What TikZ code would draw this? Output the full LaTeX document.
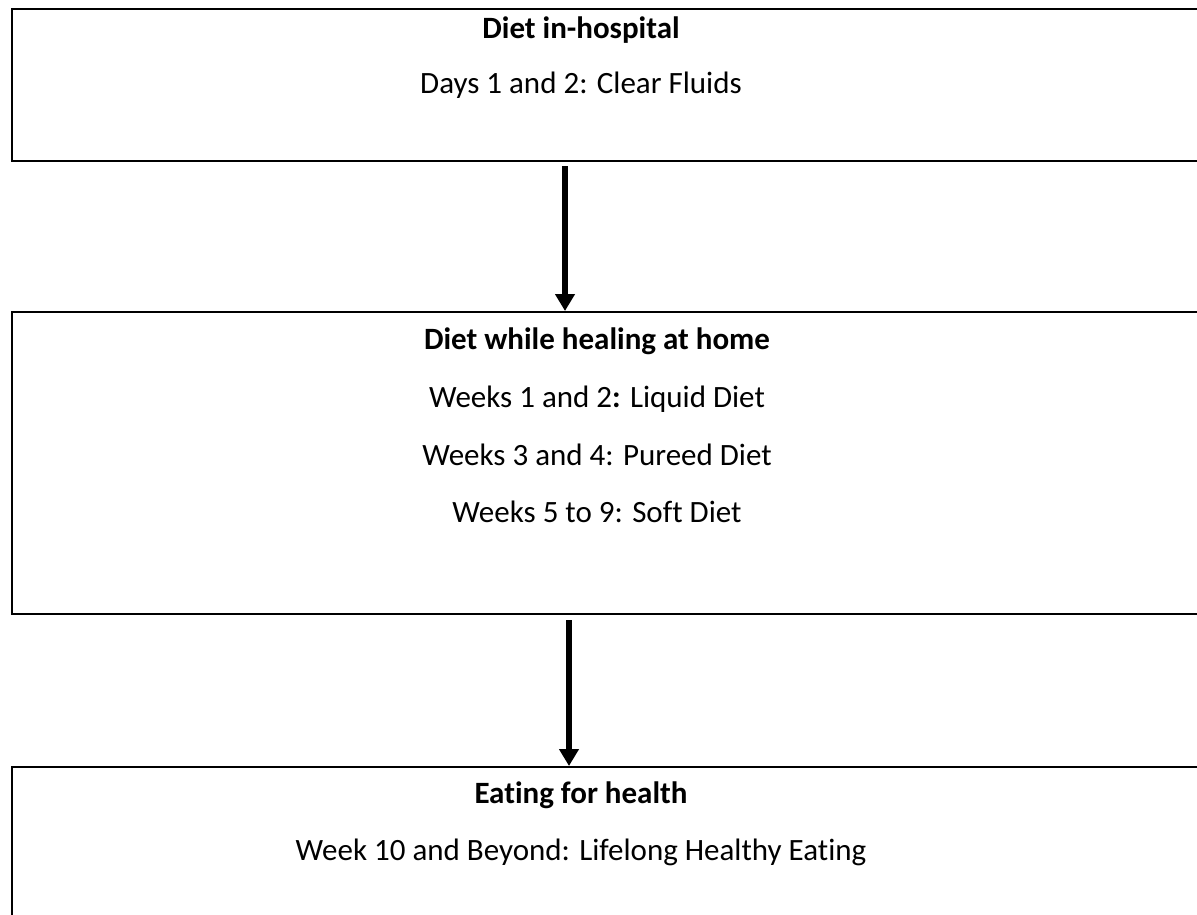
\documentclass[tikz,border=0pt]{standalone}
\usepackage{fontspec}
\setmainfont[Ligatures={NoCommon}]{Carlito}
\usetikzlibrary{arrows.meta}
\begin{document}
\begin{tikzpicture}[x=1pt,y=1pt,
  box/.style={draw=black,line width=2pt,rectangle,inner sep=0pt},
  txt/.style={anchor=base,inner sep=0pt,font=\fontsize{31}{36}\selectfont},
  btxt/.style={txt,font=\fontsize{31}{36}\selectfont\bfseries},
  arr/.style={draw=black,line width=6pt,-{Triangle[width=19pt,length=17pt]}}]
\useasboundingbox (0,0) rectangle (1197,-914);
\clip (0,0) rectangle (1197,-914);
\fill[white] (0,0) rectangle (1197,-914);
% boxes
\node[box,minimum width=1198pt,minimum height=152pt] (b1) at (611,-85) {};
\node[box,minimum width=1198pt,minimum height=302pt] (b2) at (611,-463) {};
\node[box,minimum width=1198pt,minimum height=180pt] (b3) at (611,-857) {};
% texts
\node[btxt] (t1) at (581,-38) {Diet in-hospital};
\node[txt] (t2) at (581,-93) {Days 1 and 2: Clear Fluids};
\node[btxt] (t3) at (597,-349) {Diet while healing at home};
\node[txt] (t4) at (597,-407) {Weeks 1 and 2\textbf{:} Liquid Diet};
\node[txt] (t5) at (597,-465) {Weeks 3 and 4: Pureed Diet};
\node[txt] (t6) at (597,-522) {Weeks 5 to 9: Soft Diet};
\node[btxt] (t7) at (581,-803) {Eating for health};
\node[txt] (t8) at (581,-860) {Week 10 and Beyond: Lifelong Healthy Eating};
% connectors
\coordinate (c1) at (565,0);
\coordinate (c2) at (569,0);
\draw[arr] ([yshift=-4pt]b1.south -| c1) -- (b2.north -| c1);
\draw[arr] ([yshift=-5pt]b2.south -| c2) -- (b3.north -| c2);
\end{tikzpicture}
\end{document}
